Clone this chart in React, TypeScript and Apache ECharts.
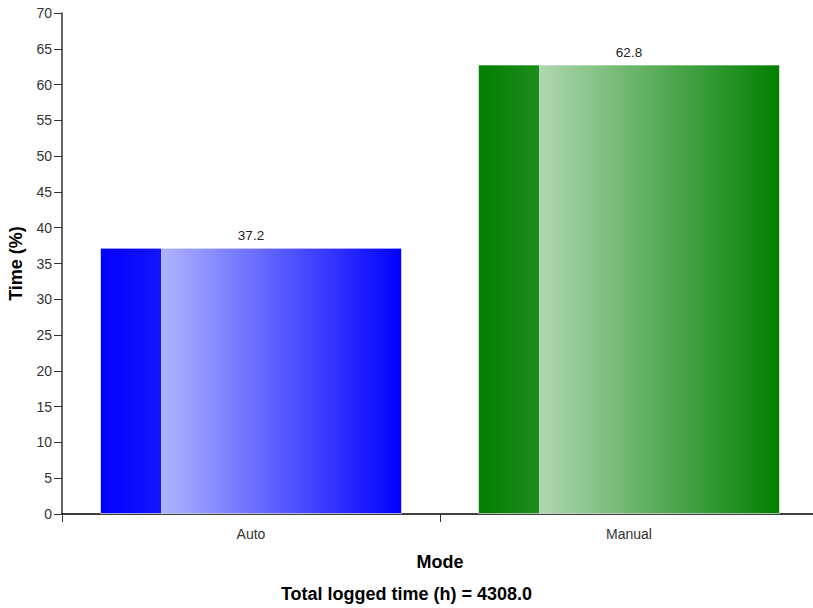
import React, { useEffect, useRef } from "react";
import * as echarts from "echarts";

const categories = ["Auto", "Manual"];
const values = [37.2, 62.8];
const totalHours = "4308.0";

const baseColors = ["#0000ff", "#008000"];
const midColors = ["#1414ff", "#1c8c1c"];
const lightColors = ["#b0b4ff", "#b0d8b0"];

export default function App() {
  const ref = useRef<HTMLDivElement>(null);
  useEffect(() => {
    const chart = echarts.init(ref.current!, null, { renderer: "svg" });
    const grad = (i: number) =>
      new echarts.graphic.LinearGradient(0, 0, 1, 0, [
        { offset: 0, color: baseColors[i] },
        { offset: 0.2, color: midColors[i] },
        { offset: 0.2, color: lightColors[i] },
        { offset: 1, color: baseColors[i] },
      ]);
    chart.setOption({
      animation: false,
      textStyle: { fontFamily: "Liberation Sans, Arial, sans-serif" },
      grid: { left: 62, right: -5, top: 13, bottom: 94, outerBoundsMode: "none", containLabel: false },
      xAxis: {
        type: "category",
        data: categories,
        name: "Mode",
        nameLocation: "middle",
        nameGap: 39,
        nameTextStyle: { fontWeight: "bold", fontSize: 18, color: "#000" },
        axisLine: { lineStyle: { color: "#000", width: 1.5 } },
        axisTick: { show: true, length: 8, lineStyle: { color: "#333" } },
        axisLabel: { color: "#333", fontSize: 14, margin: 13 },
      },
      yAxis: {
        type: "value",
        min: 0,
        max: 70,
        interval: 5,
        name: "Time (%)",
        nameLocation: "middle",
        nameGap: 37,
        nameTextStyle: { fontWeight: "bold", fontSize: 18, color: "#000" },
        axisLine: { show: true, lineStyle: { color: "#333", width: 1.5 } },
        axisTick: { show: true, length: 8, lineStyle: { color: "#333" } },
        axisLabel: { color: "#333", fontSize: 14, margin: 10 },
        splitLine: { show: false },
      },
      series: [
        {
          type: "bar",
          barWidth: 302,
          data: values.map((v, i) => ({
            value: v,
            itemStyle: { color: grad(i), borderColor: "rgba(255,255,255,0.6)", borderWidth: 1 },
          })),
          label: { show: true, position: "top", color: "#222", fontSize: 13.5, distance: 5 },
        },
      ],
      graphic: [
        {
          type: "text",
          left: "center",
          top: 585,
          style: {
            text: `Total logged time (h) = ${totalHours}`,
            font: "bold 18px Liberation Sans, Arial, sans-serif",
            fill: "#000",
          },
        },
      ],
    });
    return () => chart.dispose();
  }, []);
  return (
    <div
      ref={ref}
      style={{ position: "absolute", left: 0, top: 0, width: 813, height: 608 }}
    />
  );
}
